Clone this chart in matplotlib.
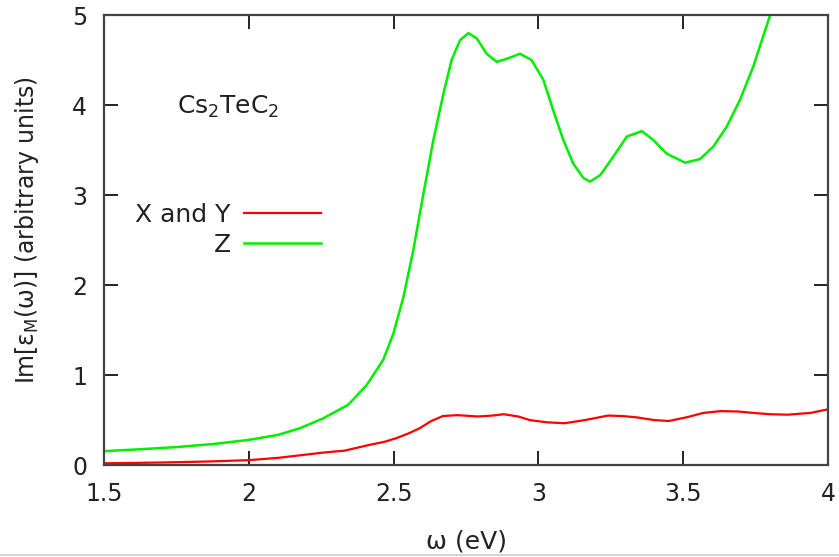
import matplotlib.pyplot as plt
from matplotlib.lines import Line2D

# photon energy (eV) and Im[eps_M]
x_xy = [1.50, 1.62, 1.72, 1.86, 2.00, 2.10, 2.18, 2.26, 2.33, 2.41, 2.47, 2.51,
        2.55, 2.59, 2.63, 2.67, 2.72, 2.79, 2.84, 2.88, 2.93, 2.97, 3.03, 3.09,
        3.16, 3.24, 3.29, 3.34, 3.40, 3.45, 3.51, 3.57, 3.63, 3.69, 3.74, 3.80,
        3.86, 3.94, 4.00]
y_xy = [0.02, 0.025, 0.03, 0.04, 0.055, 0.08, 0.11, 0.14, 0.16, 0.22, 0.26, 0.30,
        0.35, 0.41, 0.49, 0.545, 0.555, 0.54, 0.55, 0.565, 0.54, 0.50, 0.475, 0.465,
        0.50, 0.55, 0.545, 0.53, 0.50, 0.49, 0.53, 0.58, 0.60, 0.595, 0.58, 0.565,
        0.56, 0.58, 0.62]

x_z = [1.50, 1.62, 1.75, 1.88, 2.00, 2.10, 2.177, 2.257, 2.343, 2.407, 2.464, 2.499,
       2.534, 2.568, 2.603, 2.637, 2.672, 2.70, 2.729, 2.758, 2.787, 2.821, 2.856,
       2.896, 2.936, 2.976, 3.017, 3.051, 3.086, 3.12, 3.155, 3.178, 3.213, 3.259,
       3.305, 3.357, 3.397, 3.443, 3.506, 3.558, 3.604, 3.65, 3.696, 3.742, 3.80,
       3.85]
y_z = [0.155, 0.175, 0.20, 0.235, 0.28, 0.335, 0.41, 0.52, 0.67, 0.89, 1.17, 1.46,
       1.87, 2.39, 3.02, 3.61, 4.13, 4.50, 4.72, 4.80, 4.74, 4.57, 4.48,
       4.52, 4.57, 4.50, 4.28, 3.94, 3.61, 3.35, 3.19, 3.15, 3.22, 3.43,
       3.65, 3.71, 3.61, 3.46, 3.36, 3.40, 3.54, 3.76, 4.06, 4.43, 5.00,
       5.45]

xticks = [1.5, 2, 2.5, 3, 3.5, 4]
xticklabels = ['1.5', '2', '2.5', '3', '3.5', '4']
yticks = [0, 1, 2, 3, 4, 5]

fig = plt.figure(figsize=(8.39, 5.57), dpi=100)
ax = fig.add_axes([0.124, 0.165, 0.863, 0.808])

ax.plot(x_xy, y_xy, color='#ff0000', lw=1.6, label='X and Y')
ax.plot(x_z, y_z, color='#00ee00', lw=1.8, label='Z')

ax.set_xlim(1.5, 4)
ax.set_ylim(0, 5)
ax.set_xticks(xticks)
ax.set_xticklabels(xticklabels)
ax.set_yticks(yticks)

for s in ax.spines.values():
    s.set_linewidth(1.6)
    s.set_color('#444444')
ax.tick_params(direction='in', length=10, width=1.4, color='#222222',
               top=True, right=True, labelsize=17, labelcolor='#222222')
ax.tick_params(axis='x', pad=12)
ax.tick_params(axis='y', pad=12)

ax.set_xlabel('ω (eV)', fontsize=18, color='#222222', labelpad=17)
ax.set_ylabel('Im[ε$_\\mathregular{M}$(ω)] (arbitrary units)', fontsize=17,
              color='#222222')
ax.yaxis.set_label_coords(-0.087, 0.522)

ax.text(0.101, 0.795, r'Cs$_2$TeC$_2$', transform=ax.transAxes,
        fontsize=18, color='#222222', va='center')

ax.legend(loc='upper right', bbox_to_anchor=(0.313, 0.605), frameon=False,
          markerfirst=False, handlelength=3.05, fontsize=18,
          labelspacing=0.25, handletextpad=0.55, borderaxespad=0,
          labelcolor='#222222')

# thin border line at the very bottom of the screenshot
fig.add_artist(Line2D([0, 1], [0.003, 0.003], transform=fig.transFigure,
                      color='#cccccc', lw=1.2))

fig.savefig('out.png', dpi=100)
